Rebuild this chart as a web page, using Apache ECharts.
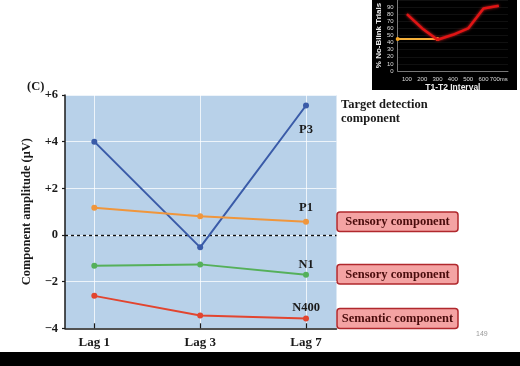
<!DOCTYPE html>
<html><head><meta charset="utf-8">
<script src="https://cdn.jsdelivr.net/npm/echarts@6/dist/echarts.min.js"></script>
<style>html,body{margin:0;padding:0;background:#fff}#c{width:520px;height:366px}</style>
</head><body><div id="c"></div>
<script>
const categories = ['Lag 1', 'Lag 3', 'Lag 7'];
const p3 = [4.0, -0.53, 5.55];
const p1 = [1.17, 0.8, 0.57];
const n1 = [-1.32, -1.26, -1.7];
const n400 = [-2.61, -3.45, -3.58];
const seriesNames = ['P3', 'P1', 'N1', 'N400'];
const yTicks = [-4, -2, 0, 2, 4, 6];

const insetX = [100, 200, 300, 400, 500, 600, 700];
const insetRed = [80, 60, 44, 51, 60, 88, 92];
const insetOrangeX = [40, 300];
const insetOrangeY = [45, 45];
const insetYTicks = [0, 10, 20, 30, 40, 50, 60, 70, 80, 90];

const serif = '"Liberation Serif", "DejaVu Serif", serif';
const sans = '"Liberation Sans", Arial, sans-serif';

function mk(vals, name, color, dy) {
  return {
    type: 'line', name: name, xAxisIndex: 0, yAxisIndex: 0,
    data: vals.map((v, i) => {
      const d = { value: [i, v] };
      if (i === vals.length - 1) {
        d.label = { show: true, formatter: name, position: 'inside', offset: [0, dy],
          color: '#1a1a1a', fontFamily: serif, fontWeight: 'bold', fontSize: 12.5 };
      }
      return d;
    }),
    symbol: 'circle', symbolSize: 6,
    itemStyle: { color: color },
    lineStyle: { color: color, width: 2 },
    z: 5
  };
}

const chart = echarts.init(document.getElementById('c'), null, { renderer: 'canvas' });
const opt = {
  backgroundColor: '#ffffff',
  animation: false,
  grid: [
    { left: 65, right: 183.5, top: 95, bottom: 37.7, show: true, backgroundColor: '#b8d1e9', borderWidth: 0 },
    { left: 397.7, width: 110.3, top: -6, height: 77, show: false }
  ],
  xAxis: [
    { type: 'value', gridIndex: 0, min: -0.277, max: 2.288, z: 10,
      axisLine: { show: true, onZero: false, lineStyle: { color: '#1a1a1a', width: 1.5 } },
      axisTick: { show: true, inside: true, length: 5, customValues: [0, 1, 2], lineStyle: { color: '#1a1a1a', width: 1.2 } },
      axisLabel: { customValues: [0, 1, 2], formatter: v => categories[Math.round(v)], color: '#1a1a1a',
        fontFamily: serif, fontWeight: 'bold', fontSize: 13, margin: 8 },
      splitLine: { show: false } },
    { type: 'value', gridIndex: 1, min: 40, max: 760,
      axisLine: { show: true, onZero: false, lineStyle: { color: '#777', width: 1 } },
      axisTick: { show: false },
      axisLabel: { customValues: insetX, formatter: v => v === 700 ? '700ms' : String(v), color: '#ddd',
        fontFamily: sans, fontSize: 6, margin: 5 },
      name: 'T1-T2 Interval', nameLocation: 'middle', nameGap: 12,
      nameTextStyle: { color: '#eee', fontFamily: sans, fontSize: 8.5, fontWeight: 'bold' },
      splitLine: { show: false } }
  ],
  yAxis: [
    { type: 'value', gridIndex: 0, min: -4, max: 6, interval: 2,
      axisLine: { show: true, onZero: false, lineStyle: { color: '#1a1a1a', width: 1.5 } },
      axisTick: { show: true, length: 3, lineStyle: { color: '#1a1a1a', width: 1.2 } },
      axisLabel: { formatter: v => v > 0 ? '+' + v : (v < 0 ? '\u2212' + Math.abs(v) : '0'),
        color: '#1a1a1a', fontFamily: serif, fontWeight: 'bold', fontSize: 12.5, margin: 7 },
      splitLine: { show: true, lineStyle: { color: 'rgba(255,255,255,0.75)', width: 1 } },
      name: 'Component amplitude (\u03bcV)', nameLocation: 'middle', nameGap: 27,
      nameTextStyle: { color: '#1a1a1a', fontFamily: serif, fontWeight: 'bold', fontSize: 12.5 } },
    { type: 'value', gridIndex: 1, min: 0, max: 100, interval: 10,
      axisLine: { show: true, onZero: false, lineStyle: { color: '#777', width: 1 } },
      axisTick: { show: false },
      axisLabel: { customValues: insetYTicks, color: '#ddd', fontFamily: sans, fontSize: 6, margin: 4 },
      splitLine: { show: true, lineStyle: { color: '#1b1b1b', width: 0.6 } },
      name: '% No-Blink Trials', nameLocation: 'middle', nameGap: 13,
      nameTextStyle: { color: '#eee', fontFamily: sans, fontSize: 8, fontWeight: 'bold' } }
  ],
  series: [
    {
      type: 'line', xAxisIndex: 0, yAxisIndex: 0, data: [], silent: true,
      markLine: { silent: true, symbol: 'none', label: { show: false },
        data: [
          { xAxis: 0, lineStyle: { color: 'rgba(255,255,255,0.75)', width: 1, type: 'solid' } },
          { xAxis: 1, lineStyle: { color: 'rgba(255,255,255,0.75)', width: 1, type: 'solid' } },
          { xAxis: 2, lineStyle: { color: 'rgba(255,255,255,0.75)', width: 1, type: 'solid' } },
          { yAxis: 0, lineStyle: { color: '#111', width: 1.4, type: [3, 3] } }
        ] },
      z: 3
    },
    mk(p3, seriesNames[0], '#3a5ba8', 24),
    mk(p1, seriesNames[1], '#f0963c', -13.5),
    mk(n1, seriesNames[2], '#55b05a', -10),
    mk(n400, seriesNames[3], '#e2452f', -11),
    { type: 'line', xAxisIndex: 1, yAxisIndex: 1,
      data: insetOrangeX.map((x, i) => [x, insetOrangeY[i]]),
      symbol: 'circle', symbolSize: 4, itemStyle: { color: '#f5a623' },
      lineStyle: { color: '#f5b03a', width: 2 }, z: 5 },
    { type: 'line', xAxisIndex: 1, yAxisIndex: 1,
      data: insetX.map((x, i) => [x, insetRed[i]]),
      symbol: 'none', lineStyle: { color: '#e01414', width: 2.5, shadowColor: 'rgba(255,40,40,0.8)', shadowBlur: 3 }, z: 6 }
  ],
  graphic: [
    { type: 'rect', z: -10, shape: { x: 372, y: 0, width: 145, height: 90 }, style: { fill: '#000' } },
    { type: 'rect', z: 100, shape: { x: 0, y: 352, width: 520, height: 14 }, style: { fill: '#000' } },
    { type: 'text', x: 27, y: 80, style: { text: '(C)', fill: '#1a1a1a', font: 'bold 12.5px ' + serif } },
    { type: 'text', x: 341, y: 98, style: { text: 'Target detection\ncomponent', fill: '#1a1a1a',
      font: 'bold 12.5px ' + serif, lineHeight: 14 } },
    { type: 'group', children: [
      { type: 'rect', shape: { x: 337, y: 212, width: 121, height: 19.5, r: 3 }, style: { fill: '#f4a3a3', stroke: '#b0282d', lineWidth: 1.5 } },
      { type: 'text', x: 397.5, y: 221.8, style: { text: 'Sensory component', fill: '#4a0c0c', font: 'bold 12.5px ' + serif, align: 'center', verticalAlign: 'middle' } },
      { type: 'rect', shape: { x: 337, y: 264.5, width: 121, height: 19.5, r: 3 }, style: { fill: '#f4a3a3', stroke: '#b0282d', lineWidth: 1.5 } },
      { type: 'text', x: 397.5, y: 274.3, style: { text: 'Sensory component', fill: '#4a0c0c', font: 'bold 12.5px ' + serif, align: 'center', verticalAlign: 'middle' } },
      { type: 'rect', shape: { x: 337, y: 308.5, width: 121, height: 20, r: 3 }, style: { fill: '#f4a3a3', stroke: '#b0282d', lineWidth: 1.5 } },
      { type: 'text', x: 397.5, y: 318.5, style: { text: 'Semantic component', fill: '#4a0c0c', font: 'bold 12.5px ' + serif, align: 'center', verticalAlign: 'middle' } }
    ] },
    { type: 'text', x: 476, y: 331, style: { text: '149', fill: '#999', font: '7px ' + sans } }
  ]
};
chart.setOption(opt);
</script>
</body></html>
